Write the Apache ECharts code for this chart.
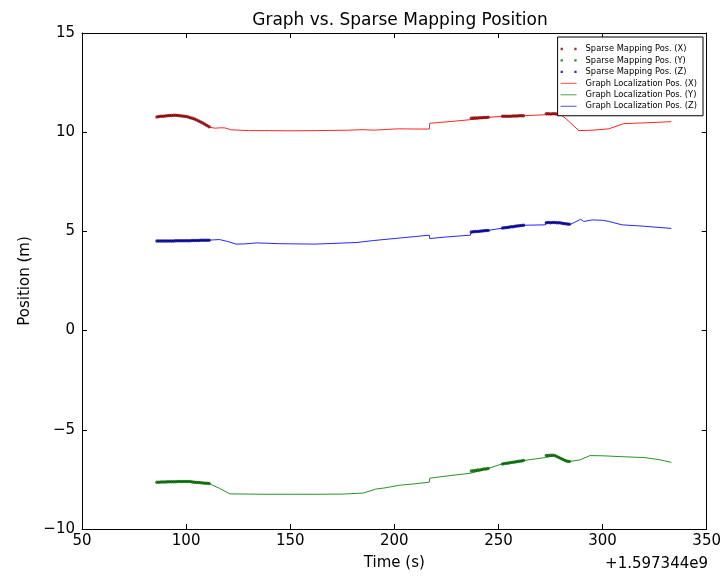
<!DOCTYPE html>
<html>
<head>
<meta charset="utf-8">
<script src="https://cdn.jsdelivr.net/npm/echarts@6/dist/echarts.min.js"></script>
<style>
  html, body { margin: 0; padding: 0; background: #fff; }
  #main { width: 724px; height: 576px; }
</style>
</head>
<body>
<div id="main"></div>
<script>
// time is in seconds, offset by +1.597344e9
const xRange = [50, 350, 50];
const yRange = [-10, 15, 5];
const offsetText = '+1.597344e9';

const seriesNames = [
  'Sparse Mapping Pos. (X)', 'Sparse Mapping Pos. (Y)', 'Sparse Mapping Pos. (Z)',
  'Graph Localization Pos. (X)', 'Graph Localization Pos. (Y)', 'Graph Localization Pos. (Z)'
];

// sparse mapping positions (dense dotted segments)
const sparseX = [
  [86,10.77],[87,10.79],[88,10.80],[89,10.81],[90,10.82],[91,10.83],[92,10.84],[93,10.84],[94,10.85],[95,10.85],
  [96,10.84],[97,10.83],[98,10.82],[99,10.80],[100,10.79],[101,10.76],[102,10.73],[103,10.70],[104,10.66],[105,10.62],
  [106,10.57],[107,10.52],[108,10.46],[109,10.40],[110,10.34],[111,10.28],
  [237,10.70],[238,10.71],[239,10.71],[240,10.72],[241,10.73],[242,10.73],[243,10.74],[244,10.74],[245,10.75],
  [252,10.80],[253,10.80],[254,10.81],[255,10.81],[256,10.81],[257,10.82],[258,10.82],[259,10.82],[260,10.83],[261,10.83],[262,10.83],
  [273,10.93],[274,10.93],[275,10.92],[276,10.93],[277,10.93],[278,10.92],[279,10.92]
];
const sparseY = [
  [86,-7.64],[87,-7.64],[88,-7.63],[89,-7.63],[90,-7.63],[91,-7.62],[92,-7.62],[93,-7.62],[94,-7.62],[95,-7.62],
  [96,-7.61],[97,-7.61],[98,-7.61],[99,-7.61],[100,-7.61],[101,-7.61],[102,-7.61],[103,-7.63],[104,-7.64],[105,-7.65],
  [106,-7.66],[107,-7.67],[108,-7.68],[109,-7.69],[110,-7.70],[111,-7.71],
  [237,-7.08],[238,-7.06],[239,-7.05],[240,-7.03],[241,-7.02],[242,-7.00],[243,-6.98],[244,-6.97],[245,-6.95],
  [252,-6.72],[253,-6.70],[254,-6.68],[255,-6.67],[256,-6.65],[257,-6.63],[258,-6.62],[259,-6.60],[260,-6.58],[261,-6.57],[262,-6.55],
  [273,-6.30],[274,-6.29],[275,-6.28],[276,-6.28],[277,-6.30],[278,-6.35],[279,-6.40],[280,-6.45],[281,-6.50],[282,-6.55],[283,-6.58],[284,-6.60]
];
const sparseZ = [
  [86,4.52],[87,4.52],[88,4.52],[89,4.52],[90,4.52],[91,4.52],[92,4.52],[93,4.52],[94,4.52],[95,4.53],
  [96,4.53],[97,4.53],[98,4.53],[99,4.53],[100,4.53],[101,4.53],[102,4.53],[103,4.54],[104,4.54],[105,4.54],
  [106,4.54],[107,4.55],[108,4.55],[109,4.55],[110,4.56],[111,4.56],
  [237,4.97],[238,4.98],[239,4.99],[240,5.00],[241,5.01],[242,5.02],[243,5.03],[244,5.04],[245,5.05],
  [252,5.17],[253,5.18],[254,5.20],[255,5.21],[256,5.23],[257,5.24],[258,5.26],[259,5.27],[260,5.28],[261,5.30],[262,5.31],
  [273,5.44],[274,5.45],[275,5.44],[276,5.45],[277,5.45],[278,5.44],[279,5.43],[280,5.42],[281,5.40],[282,5.39],[283,5.37],[284,5.36]
];

// graph localization positions (continuous)
const graphX = [
  [86,10.77],[90,10.82],[95,10.85],[100,10.79],[105,10.62],[109,10.40],[111.3,10.25],[114,10.20],[116,10.22],[118.5,10.22],
  [121.7,10.12],[130,10.08],[140,10.08],[150,10.07],[162,10.08],[170,10.09],[178,10.10],[185,10.13],[190,10.10],[196,10.14],
  [202,10.17],[210,10.16],[216.8,10.16],[217,10.45],[225,10.52],[236.5,10.63],[237,10.70],[245,10.75],[251.7,10.80],[262,10.83],
  [272.5,10.88],[273,10.93],[279,10.93],[282,10.72],[288.6,10.08],[295,10.10],[303,10.17],[310,10.43],[320,10.47],[333,10.53]
];
const graphY = [
  [86,-7.64],[95,-7.62],[102,-7.61],[107,-7.65],[111,-7.71],[116,-7.95],[121,-8.23],[130,-8.24],[140,-8.25],[150,-8.25],
  [162,-8.25],[175,-8.24],[185,-8.19],[191,-7.99],[196,-7.92],[202,-7.80],[210,-7.72],[216.8,-7.64],[217,-7.44],[225,-7.33],
  [236.5,-7.19],[237,-7.09],[245,-6.95],[251.7,-6.72],[262,-6.55],[272.5,-6.40],[273,-6.30],[277,-6.30],[280.5,-6.47],[284,-6.60],
  [289,-6.52],[294,-6.30],[300,-6.31],[308,-6.35],[320,-6.40],[327,-6.50],[333,-6.64]
];
const graphZ = [
  [86,4.52],[100,4.53],[111,4.56],[116,4.59],[120,4.49],[124,4.36],[128,4.37],[134,4.42],[145,4.38],[162,4.36],
  [172,4.40],[182,4.44],[190,4.54],[202,4.66],[210,4.74],[216.8,4.81],[217,4.64],[225,4.72],[236.5,4.81],[237,4.97],
  [245,5.05],[251.7,5.16],[262,5.31],[272.5,5.33],[273,5.44],[278,5.45],[282,5.40],[284.6,5.36],[287,5.48],[289.4,5.61],
  [291,5.50],[295,5.58],[300,5.56],[303,5.50],[309.4,5.33],[320,5.26],[333,5.15]
];

const sparseColors = ['#8b0000', '#006400', '#00008b'];
const graphColors = ['#ff0000', '#008000', '#0000ff'];

const chart = echarts.init(document.getElementById('main'));
const font = 'DejaVu Sans';
const minus = v => String(v).replace('-', '\u2212');
// two dots, like matplotlib's scatter legend marker
const dotIcon = 'path://M1,0h2v2h-2zM13,0h2v2h-2z';
const lineIcon = 'path://M0,0h16v1h-16z';

const baseAxis = {
  type: 'value',
  axisLine: { show: true, onZero: false, lineStyle: { color: '#000', width: 1 } },
  axisTick: { show: true, inside: true, length: 5, lineStyle: { color: '#000' } },
  splitLine: { show: false }
};

const sparse = [sparseX, sparseY, sparseZ].map((d, i) => ({
  name: seriesNames[i],
  type: 'scatter',
  data: d,
  symbolSize: 3.5,
  itemStyle: { color: sparseColors[i] },
  z: 3
}));
const graph = [graphX, graphY, graphZ].map((d, i) => ({
  name: seriesNames[i + 3],
  type: 'line',
  data: d,
  symbol: 'none',
  showSymbol: false,
  lineStyle: { color: graphColors[i], width: 1, opacity: 0.85 },
  itemStyle: { color: graphColors[i], opacity: 0.7 },
  z: 2
}));

chart.setOption({
  backgroundColor: '#fff',
  animation: false,
  textStyle: { fontFamily: font },
  title: {
    text: 'Graph vs. Sparse Mapping Position',
    left: 395, top: 7, textAlign: 'center',
    textStyle: { fontFamily: font, fontSize: 17, fontWeight: 'normal', color: '#000' }
  },
  grid: { left: 82, right: 16, top: 33, bottom: 45 },
  legend: {
    orient: 'vertical',
    right: 21, top: 37,
    itemWidth: 16, itemHeight: 10, itemGap: 3.45,
    padding: [8, 6, 5.5, 3],
    borderColor: '#000', borderWidth: 1, borderRadius: 0,
    backgroundColor: '#fff',
    symbolKeepAspect: true,
    textStyle: { fontFamily: font, fontSize: 8.3, color: '#000', padding: [0, 0, 0, 4] },
    data: [
      { name: seriesNames[0], icon: dotIcon },
      { name: seriesNames[1], icon: dotIcon },
      { name: seriesNames[2], icon: dotIcon },
      { name: seriesNames[3], icon: lineIcon },
      { name: seriesNames[4], icon: lineIcon },
      { name: seriesNames[5], icon: lineIcon }
    ]
  },
  xAxis: [
    Object.assign({}, baseAxis, {
      min: xRange[0], max: xRange[1], interval: xRange[2], position: 'bottom',
      name: 'Time (s)', nameLocation: 'middle', nameGap: 27,
      nameTextStyle: { fontFamily: font, fontSize: 15, color: '#000' },
      axisLabel: { fontFamily: font, fontSize: 15, color: '#000', margin: 5 }
    }),
    Object.assign({}, baseAxis, {
      min: xRange[0], max: xRange[1], interval: xRange[2], position: 'top',
      axisLabel: { show: false }
    })
  ],
  yAxis: [
    Object.assign({}, baseAxis, {
      min: yRange[0], max: yRange[1], interval: yRange[2], position: 'left',
      name: 'Position (m)', nameLocation: 'middle', nameGap: 47,
      nameTextStyle: { fontFamily: font, fontSize: 15, color: '#000' },
      axisLabel: { fontFamily: font, fontSize: 15, color: '#000', margin: 7, formatter: minus }
    }),
    Object.assign({}, baseAxis, {
      min: yRange[0], max: yRange[1], interval: yRange[2], position: 'right',
      axisLabel: { show: false }
    })
  ],
  graphic: [{
    type: 'text',
    right: 16, top: 557,
    style: { text: offsetText, font: '15px "DejaVu Sans"', fill: '#000' }
  }],
  series: sparse.concat(graph)
});
</script>
</body>
</html>
